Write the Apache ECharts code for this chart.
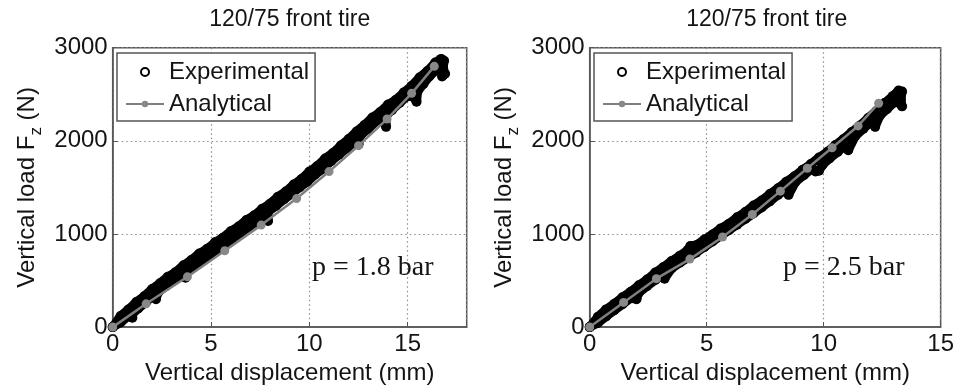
<!DOCTYPE html>
<html>
<head>
<meta charset="utf-8">
<script src="https://cdn.jsdelivr.net/npm/echarts@6/dist/echarts.min.js"></script>
<style>
  html, body { margin: 0; padding: 0; background: #fff; }
  #chart { width: 957px; height: 390px; }
</style>
</head>
<body>
<div id="chart"></div>
<script>
// text
const plotTitles = ['120/75 front tire', '120/75 front tire'];
const pressureLabels = ['p = 1.8 bar', 'p = 2.5 bar'];
const xTicks = [0, 5, 10, 15];
const yTicks = [0, 1000, 2000, 3000];

// p = 1.8 bar, experimental (loading then unloading), [mm, N]
const expLeft = [
  [0, 0], [0.4, 120], [0.8, 190], [1.2, 270], [1.6, 330], [2.0, 410], [2.4, 470], [2.8, 540],
  [3.2, 590], [3.6, 665], [4.0, 720], [4.4, 790], [4.8, 840], [5.2, 910], [5.6, 960], [6.0, 1030],
  [6.4, 1080], [6.8, 1150], [7.2, 1200], [7.6, 1270], [8.0, 1325], [8.4, 1400], [8.8, 1455],
  [9.2, 1530], [9.6, 1590], [10.0, 1670], [10.4, 1730], [10.8, 1810], [11.2, 1870], [11.6, 1950],
  [12.0, 2020], [12.4, 2100], [12.8, 2170], [13.2, 2250], [13.6, 2310], [14.0, 2390], [14.4, 2440],
  [14.8, 2520], [15.2, 2590], [15.6, 2680], [16.0, 2750], [16.4, 2840], [16.7, 2880], [16.85, 2860],
  [16.8, 2780], [16.9, 2720], [16.75, 2690], [16.8, 2820],
  [16.5, 2770], [16.1, 2690], [15.8, 2610], [15.5, 2530], [15.45, 2420], [15.3, 2470], [15.0, 2480],
  [14.6, 2410], [14.2, 2330], [13.9, 2270], [13.9, 2150], [13.7, 2230], [13.4, 2210], [13.0, 2130],
  [12.6, 2060], [12.5, 1960], [12.3, 1990], [11.9, 1920], [11.5, 1850], [11.1, 1780], [10.7, 1700],
  [10.3, 1640], [9.9, 1560], [9.5, 1500], [9.1, 1430], [8.7, 1370], [8.3, 1300], [7.9, 1240],
  [7.9, 1140], [7.7, 1190], [7.3, 1130], [6.9, 1070], [6.5, 1010], [6.1, 950], [5.7, 890],
  [5.3, 830], [4.9, 770], [4.5, 710], [4.1, 650], [3.7, 585], [3.7, 530], [3.5, 560], [3.1, 500],
  [2.7, 440], [2.3, 370], [2.2, 300], [2.0, 330], [1.7, 270], [1.3, 200], [1.0, 140], [1.0, 100],
  [0.8, 120], [0.4, 50], [0, 0]
];
const anaLeft = [
  [0, 0], [1.7, 250], [3.8, 540], [5.7, 820], [7.55, 1095], [9.35, 1380], [11.0, 1670],
  [12.5, 1948], [13.95, 2234], [15.2, 2510], [16.35, 2800]
];

// p = 2.5 bar
const expRight = [
  [0, 0], [0.35, 110], [0.7, 190], [1.05, 250], [1.4, 320], [1.75, 380], [2.1, 450], [2.45, 510],
  [2.8, 585], [3.15, 645], [3.5, 710], [3.85, 765], [4.2, 830], [4.3, 870], [4.55, 880], [4.9, 940],
  [5.25, 995], [5.6, 1060], [5.95, 1110], [6.3, 1180], [6.65, 1235], [7.0, 1305], [7.35, 1360],
  [7.7, 1430], [8.05, 1490], [8.4, 1560], [8.75, 1620], [9.1, 1690], [9.45, 1750], [9.8, 1820],
  [10.15, 1880], [10.5, 1955], [10.85, 2020], [11.2, 2095], [11.55, 2165], [11.9, 2245],
  [12.25, 2320], [12.6, 2405], [12.95, 2480], [13.2, 2540], [13.35, 2530], [13.3, 2440],
  [13.35, 2370], [13.25, 2400], [13.3, 2500],
  [13.0, 2410], [12.7, 2340], [12.4, 2270], [12.2, 2150], [12.05, 2210], [11.7, 2130], [11.35, 2050],
  [11.05, 1900], [10.95, 1960], [10.6, 1880], [10.25, 1810], [9.95, 1740], [9.8, 1680], [9.65, 1670],
  [9.5, 1700], [9.15, 1630], [8.8, 1560], [8.5, 1420], [8.4, 1480], [8.05, 1420], [7.7, 1350],
  [7.35, 1285], [7.0, 1220], [6.65, 1160], [6.3, 1100], [5.95, 1040], [5.6, 980], [5.25, 920],
  [4.9, 860], [4.55, 800], [4.2, 745], [3.85, 690], [3.5, 630], [3.2, 520], [3.15, 570], [2.8, 505],
  [2.45, 440], [2.1, 370], [2.0, 300], [1.75, 310], [1.4, 245], [1.05, 180], [0.7, 115],
  [0.35, 45], [0, 0]
];
const anaRight = [
  [0, 0], [1.45, 265], [2.85, 520], [4.28, 730], [5.68, 968], [6.95, 1209], [8.15, 1460],
  [9.3, 1706], [10.36, 1925], [11.47, 2160], [12.35, 2404]
];

var chartDom = document.getElementById('chart');
var myChart = echarts.init(chartDom, null, { renderer: 'canvas' });
var option;

const sans = '"Liberation Sans", Arial, Helvetica, sans-serif';
const textColor = '#141414';

function xAxisFor(gridIndex, max) {
  return {
    gridIndex: gridIndex,
    type: 'value',
    min: 0,
    max: max,
    interval: 5,
    name: 'Vertical displacement (mm)',
    nameLocation: 'middle',
    nameGap: 30,
    nameTextStyle: { fontSize: 24, fontFamily: sans, color: textColor },
    axisLine: { show: true, lineStyle: { color: '#555', width: 1.5 } },
    axisTick: { show: true, inside: true, length: 5, lineStyle: { color: '#555' } },
    axisLabel: {
      margin: 5,
      fontSize: 24,
      fontFamily: sans,
      color: textColor,
      formatter: function (v) { return xTicks.indexOf(v) >= 0 ? String(v) : ''; }
    },
    splitLine: { show: true, lineStyle: { color: '#8a8a8a', type: [1.5, 3], width: 1.2 } }
  };
}

function yAxisFor(gridIndex) {
  return {
    gridIndex: gridIndex,
    type: 'value',
    min: 0,
    max: 3000,
    interval: 1000,
    name: '{a|Vertical load F}{b|z}{a| (N)}',
    nameLocation: 'middle',
    nameGap: 68,
    nameTextStyle: {
      fontSize: 24,
      fontFamily: sans,
      color: textColor,
      rich: {
        a: { fontSize: 24, lineHeight: 34, fontFamily: sans, color: textColor },
        b: { fontSize: 17, lineHeight: 17, verticalAlign: 'bottom', fontFamily: sans, color: textColor }
      }
    },
    axisLine: { show: true, lineStyle: { color: '#555', width: 1.5 } },
    axisTick: { show: true, inside: true, length: 5, lineStyle: { color: '#555' } },
    axisLabel: {
      margin: 5,
      fontSize: 24,
      fontFamily: sans,
      color: textColor,
      formatter: function (v) { return yTicks.indexOf(v) >= 0 ? String(v) : ''; }
    },
    splitLine: { show: true, lineStyle: { color: '#8a8a8a', type: [1.5, 3], width: 1.2 } }
  };
}

function expSeries(idx, data) {
  return {
    name: 'Experimental',
    type: 'line',
    xAxisIndex: idx,
    yAxisIndex: idx,
    data: data,
    symbol: 'circle',
    symbolSize: 10,
    itemStyle: { color: '#000' },
    lineStyle: { color: '#000', width: 9, join: 'round', cap: 'round' },
    z: 2
  };
}

function anaSeries(idx, data) {
  return {
    name: 'Analytical',
    type: 'line',
    xAxisIndex: idx,
    yAxisIndex: idx,
    data: data,
    symbol: 'circle',
    symbolSize: 9,
    itemStyle: { color: '#888' },
    lineStyle: { color: '#7f7f7f', width: 2.5 },
    z: 3
  };
}

function legendFor(left) {
  return {
    left: left,
    top: 53,
    orient: 'vertical',
    selectedMode: false,
    itemWidth: 38,
    itemHeight: 8,
    itemGap: 8,
    padding: [7, 6, 5, 8],
    backgroundColor: '#fff',
    borderColor: '#555',
    borderWidth: 1.5,
    textStyle: { fontSize: 24, fontFamily: sans, color: textColor },
    data: [{ name: 'Experimental', icon: 'emptyCircle' }, { name: 'Analytical' }]
  };
}

option = {
  animation: false,
  backgroundColor: '#fff',
  grid: [
    { left: 112.7, right: 490.3, top: 47.7, bottom: 60, show: true, borderColor: '#555', borderWidth: 1.5 },
    { left: 589.7, right: 13.3, top: 47.7, bottom: 60, show: true, borderColor: '#555', borderWidth: 1.5 }
  ],
  xAxis: [xAxisFor(0, 18), xAxisFor(1, 15)],
  yAxis: [yAxisFor(0), yAxisFor(1)],
  legend: [legendFor(117), legendFor(594)],
  series: [
    expSeries(0, expLeft),
    anaSeries(0, anaLeft),
    expSeries(1, expRight),
    anaSeries(1, anaRight)
  ],
  graphic: [
    { type: 'text', x: 289.7, y: 20, style: { text: plotTitles[0], align: 'center', verticalAlign: 'middle', font: '23px ' + sans, fill: textColor } },
    { type: 'text', x: 766.7, y: 20, style: { text: plotTitles[1], align: 'center', verticalAlign: 'middle', font: '23px ' + sans, fill: textColor } },
    { type: 'text', x: 312, y: 268, z: 10, style: { text: pressureLabels[0], align: 'left', verticalAlign: 'middle', font: '28px "Liberation Serif", "Times New Roman", serif', fill: textColor } },
    { type: 'text', x: 783, y: 268, z: 10, style: { text: pressureLabels[1], align: 'left', verticalAlign: 'middle', font: '28px "Liberation Serif", "Times New Roman", serif', fill: textColor } }
  ]
};

option && myChart.setOption(option);
</script>
</body>
</html>
